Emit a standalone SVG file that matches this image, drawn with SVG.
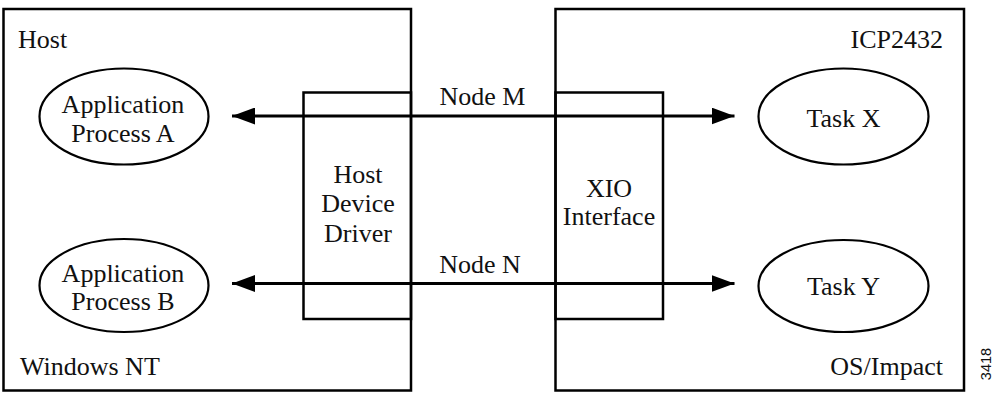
<svg xmlns="http://www.w3.org/2000/svg" width="997" height="394" viewBox="0 0 997 394">
<style>
.box{fill:none;stroke:#000;stroke-width:2.5}
.ell{fill:#fff;stroke:#000;stroke-width:2.2}
.t{font-family:"Liberation Serif","Times New Roman",serif;font-size:26px;fill:#111}
.c{text-anchor:middle}
.r{text-anchor:end}
.conn{stroke:#000;stroke-width:3;fill:none;marker-start:url(#ah);marker-end:url(#ah)}
</style>
<defs>
<marker id="ah" viewBox="0 0 23 17" refX="23" refY="8.5" markerWidth="23" markerHeight="17" markerUnits="userSpaceOnUse" orient="auto-start-reverse">
<path d="M0,0 L23,8.5 L0,17 Z" fill="#000"/>
</marker>
</defs>
<rect width="997" height="394" fill="#fff"/>
<g id="host">
<rect class="box" x="3.5" y="9" width="407.5" height="381.5"/>
<text class="t" x="18" y="48">Host</text>
<text class="t" x="20" y="375">Windows NT</text>
</g>
<g id="icp">
<rect class="box" x="555.5" y="9" width="408.5" height="381.5"/>
<text class="t r" x="943" y="48">ICP2432</text>
<text class="t r" x="943" y="375">OS/Impact</text>
</g>
<g id="hdd">
<rect class="box" x="303.5" y="92.5" width="107.5" height="226.5"/>
<text class="t c" x="358" y="183">Host</text>
<text class="t c" x="358" y="212">Device</text>
<text class="t c" x="358" y="242">Driver</text>
</g>
<g id="xio">
<rect class="box" x="555.5" y="92.5" width="107.5" height="226.5"/>
<text class="t c" x="609" y="197">XIO</text>
<text class="t c" x="609" y="225">Interface</text>
</g>
<g id="appA">
<ellipse class="ell" cx="124" cy="116.5" rx="84.5" ry="48"/>
<text class="t c" x="123" y="113">Application</text>
<text class="t c" x="123" y="142">Process A</text>
</g>
<g id="appB">
<ellipse class="ell" cx="124" cy="285.5" rx="84.5" ry="46.5"/>
<text class="t c" x="123" y="281.5">Application</text>
<text class="t c" x="123" y="310">Process B</text>
</g>
<g id="taskX">
<ellipse class="ell" cx="843.5" cy="116.5" rx="85" ry="48"/>
<text class="t c" x="843.5" y="127">Task X</text>
</g>
<g id="taskY">
<ellipse class="ell" cx="843.5" cy="286" rx="85" ry="46"/>
<text class="t c" x="843.5" y="295">Task Y</text>
</g>
<g id="connectors">
<line class="conn" x1="232" y1="116" x2="734.5" y2="116"/>
<line class="conn" x1="232" y1="283.5" x2="734.5" y2="283.5"/>
<text class="t c" x="482.5" y="104.5">Node M</text>
<text class="t c" x="480" y="272.5">Node N</text>
</g>
<text transform="translate(991,364) rotate(-90)" text-anchor="middle" font-family="'Liberation Sans',Arial,sans-serif" font-size="14.5" fill="#111">3418</text>
</svg>
